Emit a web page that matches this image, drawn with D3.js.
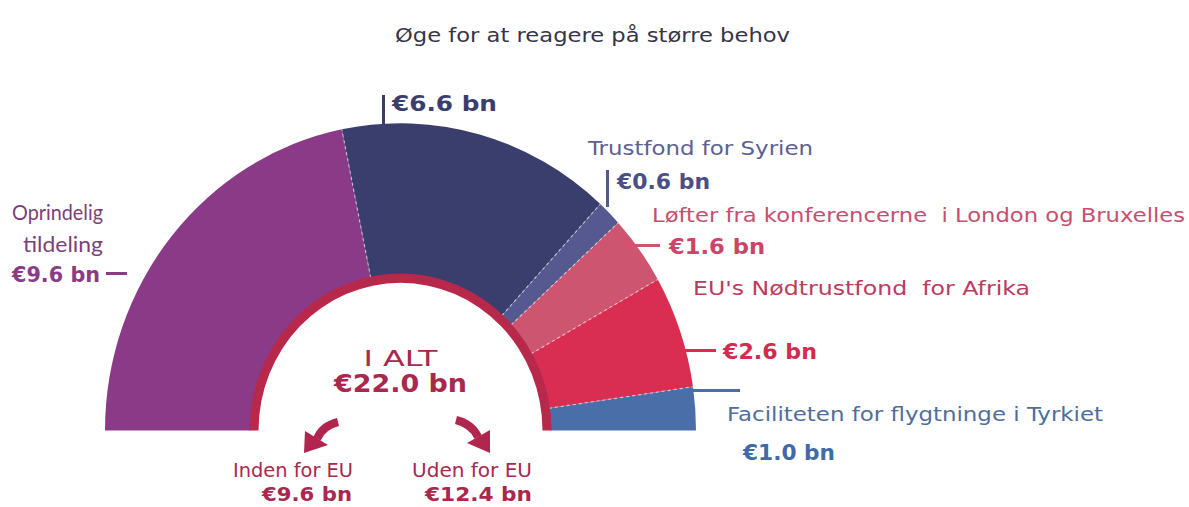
<!DOCTYPE html>
<html><head><meta charset="utf-8">
<script src="https://cdn.jsdelivr.net/npm/d3@7"></script>
<style>
html,body{margin:0;padding:0;background:#fff;}
svg{display:block;}
text{font-family:"DejaVu Sans",sans-serif;white-space:pre;}
text.narrow{font-family:Lato,sans-serif;}
</style></head>
<body>
<svg id="chart" width="1189" height="507"></svg>
<script>
const title = "Øge for at reagere på større behov";
const categories = ["Oprindelig tildeling","Trustfond ekstra","Trustfond for Syrien","Løfter fra konferencerne  i London og Bruxelles","EU's Nødtrustfond  for Afrika","Faciliteten for flygtninge i Tyrkiet"];
const values = [9.6, 6.6, 0.6, 1.6, 2.6, 1.0];
const valueLabels = ["€9.6 bn","€6.6 bn","€0.6 bn","€1.6 bn","€2.6 bn","€1.0 bn"];
const colors = ["#8b3a87","#3a3e6d","#55598f","#cd5570","#d92e52","#4a6ea8"];
const totalLabel = "I ALT";
const totalValue = "€22.0 bn";
const splitLabels = ["Inden for EU","Uden for EU"];
const splitValues = ["€9.6 bn","€12.4 bn"];

const svg = d3.select("#chart");
const cx = 400.5, cy = 430.5, R = 295.5, r0 = 150;

const txt = (x,y,s,size,c,bold,anchor,len)=>{
  const t = svg.append("text").attr("x",x).attr("y",y)
    .attr("font-size",size).attr("fill",c).attr("font-weight",bold?"bold":"normal")
    .attr("text-anchor",anchor||"start").text(s);
  if (len) t.attr("textLength",len).attr("lengthAdjust","spacingAndGlyphs");
  return t;
};

txt(592.5,42,title,20,"#353548",false,"middle",395);

const g = svg.append("g").attr("transform",`translate(${cx},${cy}) scale(1,1.04)`);
const pie = d3.pie().sort(null).startAngle(-Math.PI/2).endAngle(Math.PI/2);
const arcs = pie(values);
const arc = d3.arc().innerRadius(r0).outerRadius(R);
g.selectAll("path.slice").data(arcs).join("path").attr("class","slice")
  .attr("d",arc).attr("fill",(d,i)=>colors[i]);

// dashed separators
g.selectAll("line.sep").data(arcs.slice(1)).join("line").attr("class","sep")
  .attr("x1",d=>r0*Math.sin(d.startAngle)).attr("y1",d=>-r0*Math.cos(d.startAngle))
  .attr("x2",d=>R*Math.sin(d.startAngle)).attr("y2",d=>-R*Math.cos(d.startAngle))
  .attr("stroke","#ffffff").attr("stroke-opacity",0.55).attr("stroke-width",1.2)
  .attr("stroke-dasharray","3,3");

// inner ring
g.append("path").attr("d",d3.arc().innerRadius(142).outerRadius(151)
  .startAngle(-Math.PI/2).endAngle(Math.PI/2)()).attr("fill","#b8284b");

// leader ticks
const tick = (x1,y1,x2,y2,c)=>svg.append("line").attr("x1",x1).attr("y1",y1).attr("x2",x2).attr("y2",y2)
  .attr("stroke",c).attr("stroke-width",3);
tick(383.5,95,383.5,124,"#3a3e6d");
tick(607.5,170,607.5,207,"#55598f");
tick(635,245.5,660,245.5,"#cd5570");
tick(682,350.5,716,350.5,"#d92e52");
tick(692,390.5,740,390.5,"#4a6ea8");
tick(106,273.5,127,273.5,"#8b3a87");

// purple
txt(103,220,"Oprindelig",21,"#7c3f7a",false,"end",91).attr("class","narrow");
txt(103,252,"tildeling",21,"#7c3f7a",false,"end",80).attr("class","narrow");
txt(12,282,valueLabels[0],21,"#8b3a87",true,"start",88);
// navy
txt(392,111,valueLabels[1],22,"#3a3e6d",true,"start",105);
// slate
txt(588,155,categories[2],20,"#5d6090",false,"start",225);
txt(617,189,valueLabels[2],21,"#4a4f86",true,"start",93);
// pink
txt(652,222,categories[3],20,"#c45070",false,"start",533);
txt(669,254,valueLabels[3],21,"#cc4468",true,"start",96);
// red
txt(693,295,categories[4],20,"#bd3a5e",false,"start",337);
txt(723,359,valueLabels[4],21,"#d42a50",true,"start",94);
// blue
txt(727,421,categories[5],20,"#4f6e9a",false,"start",376);
txt(743,460,valueLabels[5],21,"#3f6aa8",true,"start",92);

// center
txt(cx,366,totalLabel,21,"#a8284e",false,"middle",74);
txt(cx,392,totalValue,24,"#a8284e",true,"middle",133);
txt(293,477,splitLabels[0],20,"#a8284e",false,"middle",120);
txt(307,501,splitValues[0],20,"#a8284e",true,"middle",90);
txt(472,477,splitLabels[1],20,"#a8284e",false,"middle",120);
txt(478.5,501,splitValues[1],20,"#a8284e",true,"middle",107);

// arrows
const ac = "#b0264e";
svg.append("path").attr("d","M338,422 Q322,426 317,439").attr("fill","none").attr("stroke",ac).attr("stroke-width",8);
svg.append("path").attr("d","M304,453 L305,431 L328,445 Z").attr("fill",ac);
svg.append("path").attr("d","M456,420 Q472,424 478,437").attr("fill","none").attr("stroke",ac).attr("stroke-width",8);
svg.append("path").attr("d","M490,453 L490,430 L467,443 Z").attr("fill",ac);
</script>
</body></html>
